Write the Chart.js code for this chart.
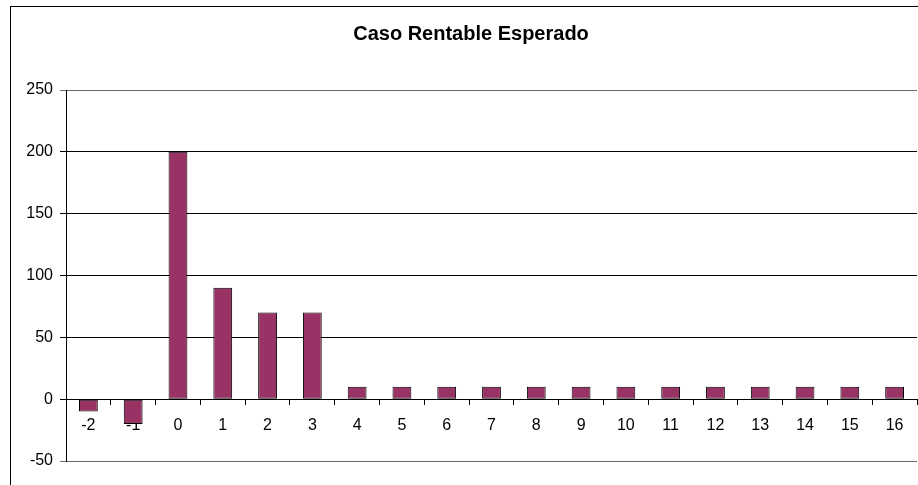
<!DOCTYPE html>
<html>
<head>
<meta charset="utf-8">
<script src="https://cdn.jsdelivr.net/npm/chart.js@4.4.1/dist/chart.umd.min.js"></script>
<style>
  html, body { margin: 0; padding: 0; background: #fff; overflow: hidden; }
  #wrap { position: relative; width: 918px; height: 485px; overflow: hidden; }
  #frame {
    position: absolute; left: 10px; top: 6px; width: 940px; height: 500px;
    border-left: 1px solid #000; border-top: 1px solid #000; pointer-events: none;
  }
</style>
</head>
<body>
<div id="wrap">
  <canvas id="chart" width="942" height="485"></canvas>
  <div id="frame"></div>
</div>
<script>
// Periods and cash flow per period
const periods = ['-2', '-1', '0', '1', '2', '3', '4', '5', '6', '7', '8', '9', '10', '11', '12', '13', '14', '15', '16'];
const flows = [-10, -20, 200, 90, 70, 70, 10, 10, 10, 10, 10, 10, 10, 10, 10, 10, 10, 10, 10];
const yTicks = [-50, 0, 50, 100, 150, 200, 250];

Chart.defaults.font.family = "'Liberation Sans', Arial, sans-serif";
Chart.defaults.color = '#000';

new Chart(document.getElementById('chart'), {
    type: 'bar',
    data: {
        labels: periods,
        datasets: [{
            data: flows,
            backgroundColor: '#993366',
            borderColor: '#000',
            borderWidth: 1,
            borderSkipped: false,
            barPercentage: 0.42,
            categoryPercentage: 1
        }]
    },
    options: {
        responsive: false,
        animation: false,
        layout: { padding: { left: 0, right: 0, top: 0, bottom: 24 } },
        plugins: {
            legend: { display: false },
            tooltip: { enabled: false },
            title: {
                display: true,
                text: 'Caso Rentable Esperado',
                font: { size: 20, weight: 'bold' },
                color: '#000',
                padding: { top: 22, bottom: 44 }
            }
        },
        scales: {
            x: {
                position: { y: 0 },
                z: 1,
                afterFit: (s) => { s.height = 0; },
                grid: {
                    offset: true,
                    drawOnChartArea: false,
                    drawTicks: true,
                    tickLength: 5,
                    color: '#000'
                },
                border: { display: true, color: '#000', width: 1 },
                ticks: { font: { size: 16 }, padding: 12, maxRotation: 0, autoSkip: false }
            },
            y: {
                min: -50,
                max: 250,
                afterFit: (s) => { s.width = 66; },
                afterBuildTicks: (s) => { s.ticks = yTicks.map(v => ({ value: v })); },
                grid: {
                    color: (c) => (c.tick && (c.tick.value === 250 || c.tick.value === -50)) ? '#6a6a6a' : '#000',
                    tickLength: 6
                },
                border: { display: true, color: '#000', width: 1 },
                ticks: { font: { size: 16 }, padding: 7 }
            },
            // empty margin on the right, the chart frame continues past the edge
            yPad: {
                position: 'right',
                afterFit: (s) => { s.width = 25; },
                grid: { display: false },
                border: { display: false },
                ticks: { display: false }
            }
        }
    }
});
</script>
</body>
</html>
